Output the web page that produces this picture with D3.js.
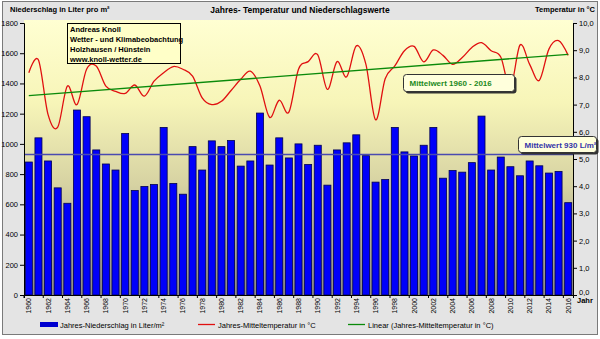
<!DOCTYPE html>
<html>
<head>
<meta charset="utf-8">
<script src="https://cdn.jsdelivr.net/npm/d3@7"></script>
<style>
  body { margin: 0; background: #fff; }
  svg { display: block; font-family: "Liberation Sans", Arial, sans-serif; }
</style>
</head>
<body>
<div id="chart"></div>
<script>
// values
const years = d3.range(1960, 2017);

const precip = [
  880, 1040, 887, 709, 607, 1224, 1180, 960, 867, 827,
  1069, 691, 718, 731, 1109, 738, 667, 982, 827, 1020,
  982, 1022, 853, 887, 1204, 860, 1040, 907, 1000, 864,
  991, 727, 960, 1007, 1060, 922, 747, 764, 1109, 947,
  920, 991, 1109, 773, 824, 813, 876, 1184, 827, 913,
  849, 789, 887, 855, 807, 818, 611,
];

const temps = [
  8.17, 8.64, 6.63, 6.17, 7.68, 7.0, 8.3, 8.42, 7.68, 7.49,
  7.41, 7.72, 7.31, 7.86, 8.17, 8.4, 8.3, 8.05, 7.25, 7.0,
  7.12, 7.52, 7.93, 8.23, 7.68, 6.53, 7.16, 6.72, 8.3, 8.58,
  8.83, 7.56, 8.58, 8.02, 9.16, 8.48, 6.44, 7.95, 8.42, 8.98,
  9.14, 8.57, 9.01, 8.81, 8.48, 8.73, 9.1, 9.28, 8.98, 8.75,
  7.62, 9.19, 8.48, 7.89, 9.04, 9.35, 8.81,
];

const precipTicks = d3.range(0, 1801, 200);
const tempTicks = d3.range(0, 10.01, 1);
const meanPrecip = 930;

const infoLines = [
  'Andreas Knoll',
  'Wetter - und Klimabeobachtung',
  'Holzhausen / Hünstein',
  'www.knoll-wetter.de',
];

const size = { width: 600, height: 339 };
const plot = { left: 24, right: 573, top: 23, bottom: 295 };

const svg = d3.select('#chart')
  .append('svg')
  .attr('width', size.width)
  .attr('height', size.height);

// frame
svg.append('rect')
  .attr('x', 2.5).attr('y', 1.5)
  .attr('width', 595).attr('height', 333)
  .attr('fill', '#e4e4e4')
  .attr('stroke', '#7a7a7a');

// plot background gradient
const grad = svg.append('defs').append('linearGradient')
  .attr('id', 'bg').attr('x1', 0).attr('y1', 0).attr('x2', 0).attr('y2', 1);
[[0, '#ffffd2'], [0.3, '#f7f5b8'], [0.6, '#d6d2a2'], [1, '#8c8a82']].forEach(([o, c]) => {
  grad.append('stop').attr('offset', o).attr('stop-color', c);
});

svg.append('rect')
  .attr('x', plot.left).attr('y', 20)
  .attr('width', plot.right - plot.left).attr('height', plot.bottom - 20)
  .attr('fill', 'url(#bg)');

const x = d3.scaleBand()
  .domain(years)
  .range([plot.left, plot.right])
  .paddingInner(0.27)
  .paddingOuter(0.135);

const step = x.step();
const cx = (yr) => x(yr) + x.bandwidth() / 2;

const yP = d3.scaleLinear().domain([0, 1800]).range([plot.bottom, plot.top]);
const yT = d3.scaleLinear().domain([0, 10]).range([plot.bottom, plot.top]);

// bars
svg.append('g')
  .selectAll('rect')
  .data(years)
  .join('rect')
  .attr('x', (d) => x(d))
  .attr('width', x.bandwidth())
  .attr('y', (d, i) => yP(precip[i]))
  .attr('height', (d, i) => plot.bottom - yP(precip[i]))
  .attr('fill', '#0000fa')
  .attr('stroke', '#000050')
  .attr('stroke-width', 0.8);

// mean precipitation line
svg.append('line')
  .attr('x1', plot.left).attr('x2', plot.right)
  .attr('y1', yP(meanPrecip)).attr('y2', yP(meanPrecip))
  .attr('stroke', '#4a4ab0')
  .attr('stroke-width', 1.4);

// temperature curve
const tempData = years.map((yr, i) => [yr, temps[i]]);
svg.append('path')
  .datum(tempData)
  .attr('fill', 'none')
  .attr('stroke', '#e01010')
  .attr('stroke-width', 1.3)
  .attr('d', d3.line()
    .x((d) => cx(d[0]))
    .y((d) => yT(d[1]))
    .curve(d3.curveCatmullRom.alpha(0)));

// linear trend
const n = years.length;
const mx = d3.mean(years);
const my = d3.mean(temps);
const slope = d3.sum(years, (yr, i) => (yr - mx) * (temps[i] - my)) /
  d3.sum(years, (yr) => (yr - mx) ** 2);
const trend = (yr) => my + slope * (yr - mx);

svg.append('line')
  .attr('x1', cx(years[0])).attr('y1', yT(trend(years[0])))
  .attr('x2', cx(years[n - 1])).attr('y2', yT(trend(years[n - 1])))
  .attr('stroke', '#0a8a0a')
  .attr('stroke-width', 1.3);

// axes
const leftAxis = svg.append('g')
  .attr('transform', `translate(${plot.left},0)`)
  .call(d3.axisLeft(yP).tickValues(precipTicks).tickSize(4).tickPadding(2).tickFormat(d3.format('d')));

const rightAxis = svg.append('g')
  .attr('transform', `translate(${plot.right},0)`)
  .call(d3.axisRight(yT).tickValues(tempTicks).tickSize(4).tickPadding(2)
    .tickFormat((d) => d3.format('.1f')(d).replace('.', ',')));

const evenYears = years.filter((yr) => yr % 2 === 0);
const bottomAxis = svg.append('g')
  .attr('transform', `translate(0,${plot.bottom})`)
  .call(d3.axisBottom(x).tickValues(evenYears).tickSize(3).tickFormat(''));
bottomAxis.selectAll('.tick line').attr('transform', `translate(${-step / 2},0)`);

[leftAxis, rightAxis, bottomAxis].forEach((g) => {
  g.select('.domain').attr('stroke', '#000');
  g.selectAll('.tick line').attr('stroke', '#000');
  g.selectAll('text').attr('font-size', 7.5).attr('fill', '#000')
    .attr('font-family', '"Liberation Sans", Arial, sans-serif');
});
rightAxis.selectAll('.tick').filter((d) => d === 0).select('text').attr('dy', '-0.1em');

// year labels, rotated
svg.append('g')
  .selectAll('text')
  .data(evenYears)
  .join('text')
  .attr('transform', (d) => `translate(${cx(d) + 2.5},298) rotate(-90)`)
  .attr('text-anchor', 'end')
  .attr('font-size', 7)
  .text((d) => d);

svg.append('text')
  .attr('x', 577).attr('y', 303)
  .attr('font-size', 7.5).attr('font-weight', 'bold')
  .text('Jahr');

// headers
svg.append('text')
  .attr('x', 10).attr('y', 12)
  .attr('font-size', 7.5).attr('font-weight', 'bold')
  .text('Niederschlag in Liter pro m²');

svg.append('text')
  .attr('x', 300).attr('y', 13)
  .attr('text-anchor', 'middle')
  .attr('font-size', 8.5).attr('font-weight', 'bold')
  .text('Jahres- Temperatur und Niederschlagswerte');

svg.append('text')
  .attr('x', 595).attr('y', 12)
  .attr('text-anchor', 'end')
  .attr('font-size', 7.5).attr('font-weight', 'bold')
  .text('Temperatur in °C');

// info box
svg.append('rect')
  .attr('x', 67.5).attr('y', 23.5)
  .attr('width', 113).attr('height', 40)
  .attr('fill', '#ffffc8').attr('stroke', '#000');

svg.append('g')
  .selectAll('text')
  .data(infoLines)
  .join('text')
  .attr('x', 70)
  .attr('y', (d, i) => 32 + i * 10)
  .attr('font-size', 7.5).attr('font-weight', 'bold')
  .text((d) => d);

// callout boxes
const callout = (bx, by, w, h, label, color) => {
  svg.append('rect')
    .attr('x', bx + 2).attr('y', by + 2)
    .attr('width', w).attr('height', h).attr('rx', 3)
    .attr('fill', '#333');
  svg.append('rect')
    .attr('x', bx).attr('y', by)
    .attr('width', w).attr('height', h).attr('rx', 3)
    .attr('fill', '#ffffdc').attr('stroke', '#333');
  svg.append('text')
    .attr('x', bx + 6).attr('y', by + h / 2 + 3)
    .attr('font-size', 8).attr('font-weight', 'bold')
    .attr('fill', color)
    .text(label);
};

callout(403.5, 74.5, 111, 17, 'Mittelwert 1960 - 2016', '#1c8a1c');
callout(518.5, 136.5, 78, 16, `Mittelwert ${meanPrecip} L/m²`, '#3434a8');

// legend
const legend = svg.append('g').attr('font-size', 7.5);
legend.append('rect').attr('x', 40).attr('y', 322).attr('width', 18).attr('height', 5).attr('fill', '#0000d0');
legend.append('text').attr('x', 60).attr('y', 328).text('Jahres-Niederschlag in Liter/m²');
legend.append('line').attr('x1', 198).attr('x2', 215).attr('y1', 324.5).attr('y2', 324.5)
  .attr('stroke', '#e01010').attr('stroke-width', 1.3);
legend.append('text').attr('x', 218).attr('y', 328).text('Jahres-Mitteltemperatur in °C');
legend.append('line').attr('x1', 348).attr('x2', 365).attr('y1', 324.5).attr('y2', 324.5)
  .attr('stroke', '#0a8a0a').attr('stroke-width', 1.3);
legend.append('text').attr('x', 368).attr('y', 328).text('Linear (Jahres-Mitteltemperatur in °C)');
</script>
</body>
</html>
